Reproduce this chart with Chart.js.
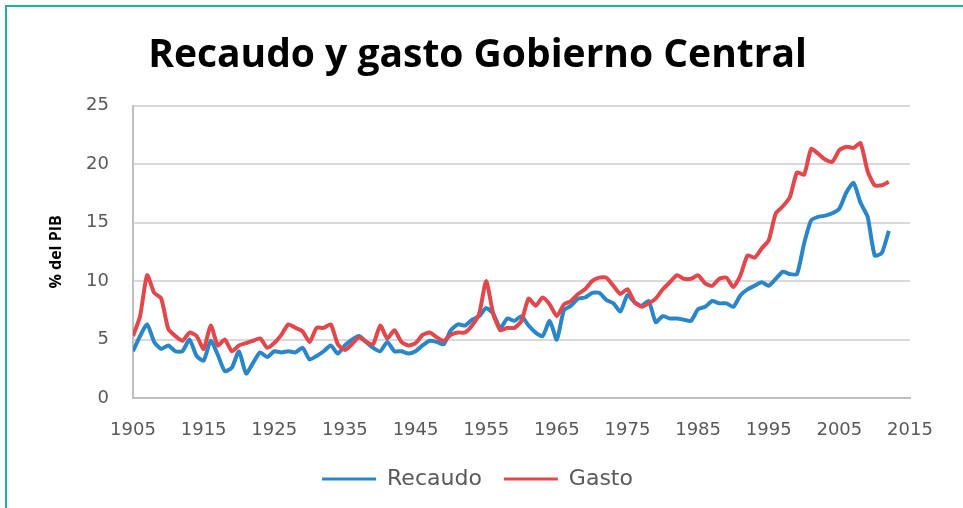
<!DOCTYPE html>
<html>
<head>
<meta charset="utf-8">
<title>Recaudo y gasto Gobierno Central</title>
<script src="https://cdn.jsdelivr.net/npm/chart.js@4.4.0/dist/chart.umd.min.js"></script>
<style>
  html, body { margin: 0; padding: 0; background: #fff; }
  #wrap { position: relative; width: 963px; height: 508px; }
  #frame { position: absolute; left: 5px; top: 5px; right: 0; bottom: 0;
           border-left: 2px solid #1db3a2; border-top: 2px solid #1db3a2; pointer-events: none; }
</style>
</head>
<body>
<div id="wrap">
  <canvas id="grafico" width="963" height="508"></canvas>
  <div id="frame"></div>
</div>
<script>
// años 1905-2012
const anios = [
  1905, 1906, 1907, 1908, 1909, 1910, 1911, 1912, 1913, 1914,
  1915, 1916, 1917, 1918, 1919, 1920, 1921, 1922, 1923, 1924,
  1925, 1926, 1927, 1928, 1929, 1930, 1931, 1932, 1933, 1934,
  1935, 1936, 1937, 1938, 1939, 1940, 1941, 1942, 1943, 1944,
  1945, 1946, 1947, 1948, 1949, 1950, 1951, 1952, 1953, 1954,
  1955, 1956, 1957, 1958, 1959, 1960, 1961, 1962, 1963, 1964,
  1965, 1966, 1967, 1968, 1969, 1970, 1971, 1972, 1973, 1974,
  1975, 1976, 1977, 1978, 1979, 1980, 1981, 1982, 1983, 1984,
  1985, 1986, 1987, 1988, 1989, 1990, 1991, 1992, 1993, 1994,
  1995, 1996, 1997, 1998, 1999, 2000, 2001, 2002, 2003, 2004,
  2005, 2006, 2007, 2008, 2009, 2010, 2011, 2012
];

// % del PIB
const recaudo = [
  4.0, 5.3, 6.3, 4.8, 4.2, 4.5, 4.0, 4.0, 5.0, 3.6,
  3.2, 4.9, 3.7, 2.3, 2.6, 4.0, 2.1, 3.0, 3.9, 3.5,
  4.0, 3.9, 4.0, 3.9, 4.3, 3.3, 3.6, 4.0, 4.5, 3.8,
  4.5, 5.0, 5.3, 4.8, 4.3, 4.0, 4.8, 4.0, 4.0, 3.8,
  4.0, 4.5, 4.9, 4.8, 4.6, 5.8, 6.3, 6.2, 6.7, 7.0,
  7.7, 7.2, 6.0, 6.8, 6.6, 7.0, 6.2, 5.6, 5.3, 6.6,
  5.0, 7.5, 7.9, 8.5, 8.6, 9.0, 9.0, 8.4, 8.1, 7.4,
  8.8, 8.2, 7.9, 8.3, 6.5, 7.0, 6.8, 6.8, 6.7, 6.6,
  7.6, 7.8, 8.3, 8.1, 8.1, 7.8, 8.8, 9.3, 9.6, 9.9,
  9.6, 10.2, 10.8, 10.6, 10.6, 13.2, 15.2, 15.5, 15.6, 15.8,
  16.2, 17.6, 18.4, 16.7, 15.5, 12.2, 12.4, 14.3
];

const gasto = [
  5.3, 7.0, 10.5, 9.0, 8.5, 5.9, 5.3, 4.9, 5.6, 5.3,
  4.2, 6.2, 4.5, 5.0, 4.0, 4.5, 4.7, 4.9, 5.1, 4.3,
  4.7, 5.4, 6.3, 6.0, 5.7, 4.8, 6.0, 6.0, 6.3, 4.6,
  4.1, 4.6, 5.2, 4.8, 4.6, 6.2, 5.1, 5.8, 4.8, 4.5,
  4.7, 5.4, 5.6, 5.2, 4.9, 5.4, 5.6, 5.6, 6.2, 7.2,
  10.0, 7.2, 5.8, 6.0, 6.0, 6.6, 8.5, 7.9, 8.6, 8.0,
  7.0, 8.0, 8.3, 8.9, 9.3, 10.0, 10.3, 10.3, 9.6, 8.9,
  9.3, 8.2, 7.8, 8.1, 8.5, 9.3, 9.9, 10.5, 10.2, 10.2,
  10.5, 9.8, 9.6, 10.2, 10.3, 9.5, 10.5, 12.2, 12.0, 12.8,
  13.5, 15.8, 16.4, 17.2, 19.3, 19.1, 21.3, 20.9, 20.4, 20.2,
  21.2, 21.5, 21.4, 21.8, 19.4, 18.2, 18.2, 18.5
];

const ticksX = [1905, 1915, 1925, 1935, 1945, 1955, 1965, 1975, 1985, 1995, 2005, 2015];

const azul = '#2a86c9';
const rojo = '#e2474c';
const gris = '#595959';

const puntos = serie => anios.map((a, i) => ({ x: a, y: serie[i] }));

new Chart(document.getElementById('grafico'), {
  type: 'line',
  data: {
    datasets: [
      {
        label: 'Recaudo',
        data: puntos(recaudo),
        borderColor: azul,
        backgroundColor: azul,
        borderWidth: 4,
        pointRadius: 0,
        tension: 0.2,
        borderJoinStyle: 'round',
        order: 1
      },
      {
        label: 'Gasto',
        data: puntos(gasto),
        borderColor: rojo,
        backgroundColor: rojo,
        borderWidth: 4,
        pointRadius: 0,
        tension: 0.2,
        borderJoinStyle: 'round',
        order: 0
      }
    ]
  },
  options: {
    responsive: false,
    animation: false,
    layout: { padding: { top: 26, left: 45, right: 53, bottom: 8 } },
    plugins: {
      title: {
        display: true,
        text: 'Recaudo y gasto Gobierno Central',
        color: '#000',
        font: { family: 'Open Sans', size: 39, weight: 'bold' },
        padding: { top: 6, bottom: 27 }
      },
      legend: {
        position: 'bottom',
        labels: {
          boxWidth: 54,
          boxHeight: 3,
          color: gris,
          padding: 22,
          font: { family: 'DejaVu Sans', size: 22 },
          sort: (a, b) => a.datasetIndex - b.datasetIndex,
          generateLabels: chart =>
            Chart.defaults.plugins.legend.labels.generateLabels(chart).map(l => {
              l.lineWidth = 0;
              l.fillStyle = chart.data.datasets[l.datasetIndex].borderColor;
              return l;
            })
        }
      },
      tooltip: { enabled: false }
    },
    scales: {
      x: {
        type: 'linear',
        min: 1905,
        max: 2015,
        afterBuildTicks: scale => { scale.ticks = ticksX.map(v => ({ value: v })); },
        ticks: {
          color: gris,
          font: { family: 'DejaVu Sans', size: 18 },
          padding: 14,
          maxRotation: 0,
          callback: v => String(v)
        },
        grid: { display: false },
        border: { display: true, color: '#bfbfbf', width: 2 },
        afterFit: scale => { scale.height = 48; }
      },
      y: {
        min: 0,
        max: 25,
        ticks: {
          stepSize: 5,
          color: gris,
          font: { family: 'DejaVu Sans', size: 18 },
          padding: 24
        },
        grid: { color: '#d9d9d9', lineWidth: 2, drawTicks: false },
        border: { display: true, color: '#bfbfbf', width: 2 },
        title: {
          display: true,
          text: '% del PIB',
          color: '#000',
          font: { family: 'Open Sans', size: 16, weight: 'bold' },
          padding: { top: 2, bottom: 0 }
        },
        afterFit: scale => { scale.width = 88; }
      }
    }
  }
});
</script>
</body>
</html>
